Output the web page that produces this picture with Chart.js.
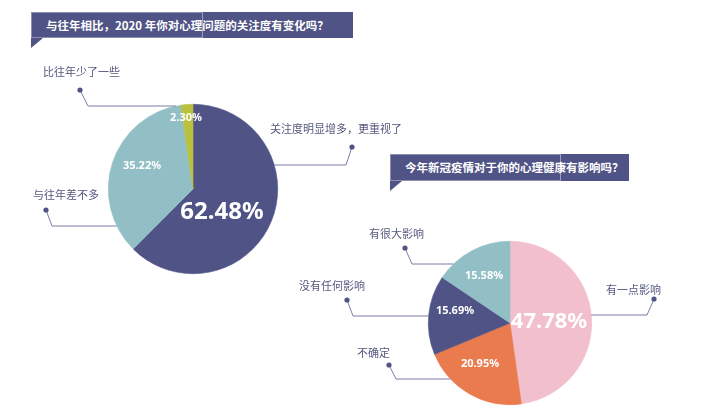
<!DOCTYPE html>
<html>
<head>
<meta charset="utf-8">
<script src="https://cdn.jsdelivr.net/npm/chart.js@4.4.1/dist/chart.umd.min.js"></script>
<style>
  html, body { margin: 0; padding: 0; background: #fff; }
  #wrap { position: relative; width: 712px; height: 408px; overflow: hidden; }
  #wrap canvas { position: absolute; left: 0; top: 0; }
  .qbox {
    position: absolute;
    background: #4f5385;
    color: #fff;
    font-family: "Noto Sans CJK SC", sans-serif;
    font-weight: 700;
    font-size: 11.5px;
    line-height: 26px;
    white-space: nowrap;
    box-sizing: border-box;
  }
  .qbox .edge {
    position: absolute; left: 0; top: 0; bottom: 0;
    border: 1px solid rgba(255,255,255,0.35);
    border-right-color: rgba(255,255,255,0.45);
  }
  .qbox .tail {
    position: absolute; left: 0; top: 100%;
    width: 0; height: 0;
    border-top: 10px solid #4f5385;
    border-right: 12px solid transparent;
  }
</style>
</head>
<body>
<div id="wrap">
  <div class="qbox" style="left:31px; top:12px; width:322px; height:26px; padding-left:15px;">
    <span class="edge" style="width:170px;"></span>
    与往年相比，2020 年你对心理问题的关注度有变化吗？
    <span class="tail"></span>
  </div>
  <div class="qbox" style="left:390px; top:154px; width:239px; height:27px; padding-left:15px; line-height:27px;">
    <span class="edge" style="width:169px;"></span>
    今年新冠疫情对于你的心理健康有影响吗？
    <span class="tail"></span>
  </div>
  <canvas id="chart1"></canvas>
  <canvas id="chart2"></canvas>
</div>
<script>
// 问题一：关注度变化
const q1Labels = ["关注度明显增多，更重视了", "与往年差不多", "比往年少了一些"];
const q1Values = [62.48, 35.22, 2.3];
const q1Colors = ["#4f5385", "#92bfc6", "#b9c13f"];

// 问题二：疫情影响
const q2Labels = ["有一点影响", "不确定", "没有任何影响", "有很大影响"];
const q2Values = [47.78, 20.95, 15.69, 15.58];
const q2Colors = ["#f2c0cd", "#e97b4e", "#4f5385", "#92bfc6"];

// 标注样式 (百分比相对饼图中心的偏移)
const q1Notes = [
  { pct: [29, 23], big: 24, text: [270, 129], dot: [352, 147], elbow: [346, 165], side: "right" },
  { pct: [-51, -23], big: 0, text: [33, 195], dot: [46, 210], elbow: [52, 226], side: "left" },
  { pct: [-7, -71], big: 0, text: [43, 72], dot: [80, 90], elbow: [88, 106], side: "left" },
];
const q2Notes = [
  { pct: [39, -1], big: 22, text: [606, 290], dot: [654, 299], elbow: [647, 315], side: "right" },
  { pct: [-30, 41], big: 0, text: [357, 353], dot: [389, 365], elbow: [396, 379], side: "left" },
  { pct: [-55, -12], big: 0, text: [299, 286], dot: [347, 300], elbow: [353, 316], side: "left" },
  { pct: [-26, -47], big: 0, text: [369, 234], dot: [405, 248], elbow: [412, 264], side: "left" },
];

const W = 712, H = 408;

// 画百分比和引线
const notesPlugin = {
  id: "notes",
  afterDraw(chart, args, opts) {
    const ctx = chart.ctx;
    const meta = chart.getDatasetMeta(0);
    const labels = chart.data.labels;
    const values = chart.data.datasets[0].data;
    ctx.save();
    meta.data.forEach((arc, i) => {
      const note = opts.notes[i];
      const cx = arc.x, cy = arc.y, r = arc.outerRadius;

      // 百分比
      ctx.fillStyle = "#ffffff";
      ctx.textAlign = "center";
      ctx.textBaseline = "middle";
      const size = note.big || 11;
      ctx.font = "700 " + size + "px 'Noto Sans', sans-serif";
      ctx.fillText(values[i].toFixed(2) + "%", cx + note.pct[0], cy + note.pct[1]);

      // 引线：圆点 -> 折点 -> 水平到饼边
      const ey = note.elbow[1];
      const dy = ey - cy;
      const dx = Math.sqrt(Math.max(r * r - dy * dy, 0));
      const ex = note.side === "right" ? cx + dx : cx - dx;
      ctx.strokeStyle = "#7a7da6";
      ctx.lineWidth = 1;
      ctx.beginPath();
      ctx.moveTo(note.dot[0], note.dot[1]);
      ctx.lineTo(note.elbow[0], note.elbow[1]);
      ctx.lineTo(ex, ey);
      ctx.stroke();
      ctx.fillStyle = "#4f5385";
      ctx.beginPath();
      ctx.arc(note.dot[0], note.dot[1], 2.6, 0, Math.PI * 2);
      ctx.fill();

      // 类别文字
      ctx.fillStyle = "#55587f";
      ctx.textAlign = "left";
      ctx.font = "400 11px 'Noto Sans CJK SC', sans-serif";
      ctx.fillText(labels[i], note.text[0], note.text[1]);
    });
    ctx.restore();
  },
};

function makePie(id, labels, values, colors, notes, cx, cy, r) {
  const canvas = document.getElementById(id);
  canvas.width = W;
  canvas.height = H;
  canvas.style.width = W + "px";
  canvas.style.height = H + "px";
  return new Chart(canvas, {
    type: "pie",
    data: {
      labels: labels,
      datasets: [
        {
          data: values,
          backgroundColor: colors,
          borderColor: colors,
          borderWidth: 0.6,
        },
      ],
    },
    options: {
      responsive: false,
      animation: false,
      layout: {
        padding: { left: cx - r, top: cy - r, right: W - cx - r, bottom: H - cy - r },
      },
      plugins: {
        legend: { display: false },
        tooltip: { enabled: false },
        notes: { notes: notes },
      },
    },
    plugins: [notesPlugin],
  });
}

makePie("chart1", q1Labels, q1Values, q1Colors, q1Notes, 193, 189, 85);
makePie("chart2", q2Labels, q2Values, q2Colors, q2Notes, 510, 323, 82);
</script>
</body>
</html>
